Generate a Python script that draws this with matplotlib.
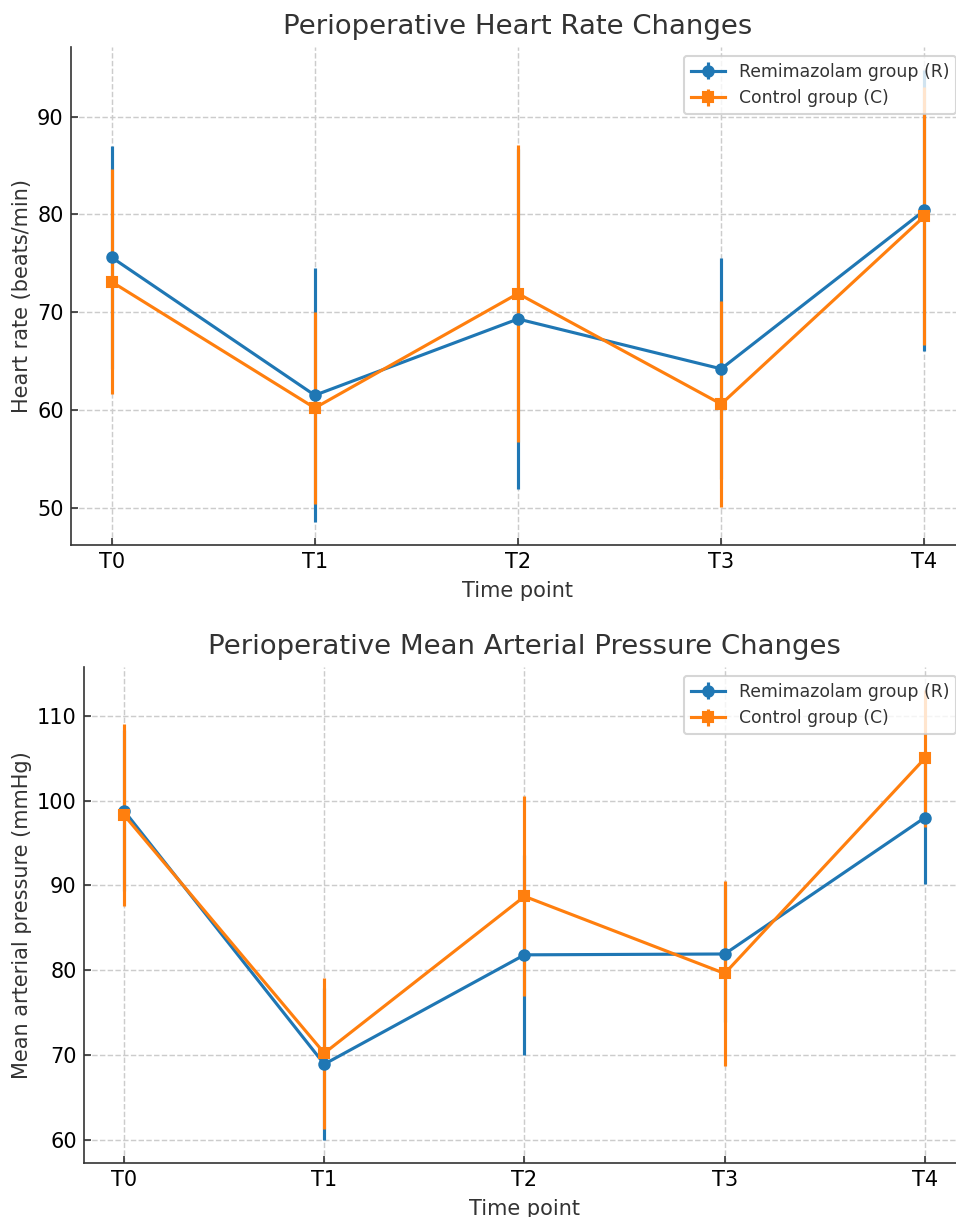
import numpy as np
import matplotlib.pyplot as plt

plt.rcParams['font.family'] = 'DejaVu Sans'
plt.rcParams['text.color'] = '#333333'
plt.rcParams['axes.labelcolor'] = '#333333'
plt.rcParams['xtick.color'] = '#333333'
plt.rcParams['ytick.color'] = '#333333'
plt.rcParams['xtick.labelcolor'] = 'black'
plt.rcParams['ytick.labelcolor'] = 'black'
plt.rcParams['xtick.direction'] = 'in'
plt.rcParams['ytick.direction'] = 'in'

time_points = ['T0', 'T1', 'T2', 'T3', 'T4']

# 心率 (beats/min)
hr_r_mean = [75.6, 61.5, 69.3, 64.2, 80.4]
hr_r_sd = [11.4, 13.0, 17.4, 11.3, 14.4]
hr_c_mean = [73.1, 60.2, 71.9, 60.6, 79.8]
hr_c_sd = [11.5, 9.8, 15.2, 10.5, 13.2]

# 平均动脉压 (mmHg)
map_r_mean = [98.8, 68.9, 81.8, 81.9, 98.0]
map_r_sd = [9.5, 9.0, 11.8, 8.0, 7.9]
map_c_mean = [98.3, 70.2, 88.7, 79.6, 105.0]
map_c_sd = [10.7, 8.9, 11.8, 10.9, 8.1]

W, H = 956, 1217
fig = plt.figure(figsize=(W / 150, H / 150), dpi=150)

# 手动摆放两个子图（右侧略超出画布，与原图一致）
ax1 = fig.add_axes([71 / W, 1 - 545 / H, (965 - 71) / W, (545 - 47) / H])
ax2 = fig.add_axes([84 / W, 1 - 1163 / H, (965 - 84) / W, (1163 - 667) / H])

x = np.arange(len(time_points))


def draw_panel(ax, r_mean, r_sd, c_mean, c_sd, title, ylabel):
    ax.errorbar(x, r_mean, yerr=r_sd, fmt='-o', color='#1f77b4', lw=1.5,
                elinewidth=1.5, markersize=5, capsize=0, label='Remimazolam group (R)')
    ax.errorbar(x, c_mean, yerr=c_sd, fmt='-s', color='#ff7f0e', lw=1.5,
                elinewidth=1.5, markersize=5, capsize=0, label='Control group (C)')
    ax.set_xticks(x)
    ax.set_xticklabels(time_points)
    ax.set_title(title, fontsize=13.2, color='#333333')
    ax.set_xlabel('Time point', fontsize=10)
    ax.set_ylabel(ylabel, fontsize=10, labelpad=2.5)
    ax.tick_params(labelsize=10)
    ax.grid(True, linestyle='--', color='#cccccc', linewidth=0.7)
    ax.spines['top'].set_visible(False)
    ax.spines['right'].set_visible(False)
    ax.spines['left'].set_color('#333333')
    ax.spines['bottom'].set_color('#333333')
    leg = ax.legend(loc='upper right', fontsize=8.3)
    for t in leg.get_texts():
        t.set_color('#333333')


draw_panel(ax1, hr_r_mean, hr_r_sd, hr_c_mean, hr_c_sd,
           'Perioperative Heart Rate Changes', 'Heart rate (beats/min)')
draw_panel(ax2, map_r_mean, map_r_sd, map_c_mean, map_c_sd,
           'Perioperative Mean Arterial Pressure Changes', 'Mean arterial pressure (mmHg)')

plt.savefig('out.png', dpi=150)
